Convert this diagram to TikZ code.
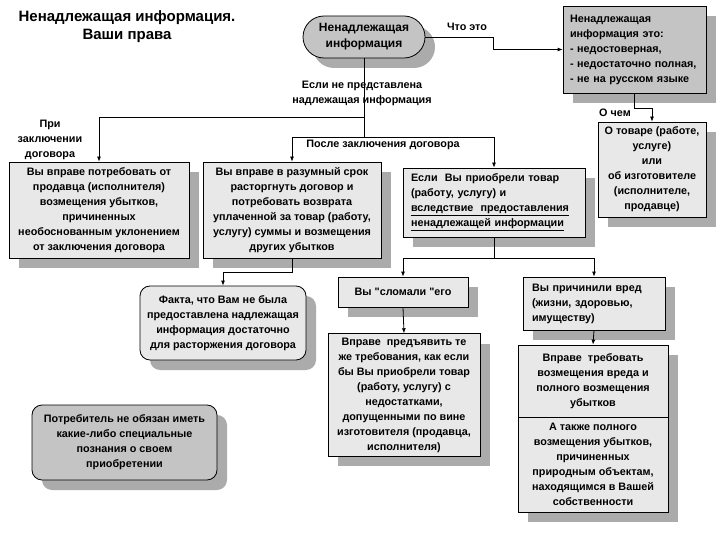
\documentclass[tikz,border=0pt]{standalone}
\usepackage{fontspec}
\setmainfont{Liberation Sans}[Ligatures=TeXOff]
\usetikzlibrary{arrows.meta,shadows}

\definecolor{boxlight}{HTML}{E8E8E8}
\definecolor{boxgray}{HTML}{C4C4C4}
\definecolor{shadowgray}{HTML}{ABABAB}

\begin{document}
\begin{tikzpicture}[x = 1pt, y = -1pt,
  txt/.style = {font = \bfseries\fontsize{10.8}{15}\selectfont},
  panel/.style = {txt, draw, thick, fill = boxlight, align = center, inner sep = 4pt,
    drop shadow = {shadow xshift = 10pt, shadow yshift = -10pt, fill = shadowgray, opacity = 1}},
  darkpanel/.style = {panel, fill = boxgray},
  arr/.style = {-{Latex[length = 5pt, width = 4pt]}}]

\useasboundingbox (0, 0) rectangle (720, 540);

\node[font = \bfseries\fontsize{15}{18}\selectfont, align = center] (title) at (127, 27) {Ненадлежащая информация.\\Ваши права};

\node[darkpanel, font = \bfseries\fontsize{12}{16}\selectfont, minimum width = 122, minimum height = 42, rounded corners = 21] (info) at (364, 37) {Ненадлежащая\\информация};

\node[darkpanel, minimum width = 143, minimum height = 87, text width = 129, align = left] (defbox) at (634.5, 49.5) {Ненадлежащая\\информация это:\\- недостоверная,\\- недостаточно полная,\\- не на русском языке};

\node[panel, minimum width = 108, minimum height = 95] (about) at (652, 169.5) {О товаре (работе,\\услуге)\\или\\об изготовителе\\(исполнителе,\\продавце)};

\node[panel, minimum width = 180, minimum height = 96] (before) at (99, 210) {Вы вправе потребовать от\\продавца (исполнителя)\\возмещения убытков,\\причиненных\\необоснованным уклонением\\от заключения договора};

\node[panel, minimum width = 178, minimum height = 96] (after) at (292, 210) {Вы вправе в разумный срок\\расторгнуть договор и\\потребовать возврата\\уплаченной за товар (работу,\\услугу) суммы и возмещения\\других убытков};

\node[panel, minimum width = 182, minimum height = 69, text width = 166, align = left] (bought) at (494, 202.5) {Если~~Вы приобрели товар\\(работу, услугу) и\\\underline{вследствие~~предоставления}\\\underline{ненадлежащей информации}};

\node[panel, minimum width = 166, minimum height = 74, rounded corners = 10] (fact) at (223, 323) {Факта, что Вам не была\\предоставлена надлежащая\\информация достаточно\\для расторжения договора};

\node[panel, minimum width = 130, minimum height = 30] (broke) at (403, 292) {Вы "сломали "его};

\node[panel, minimum width = 142, minimum height = 53, text width = 124, align = left] (harm) at (594, 303.5) {Вы причинили вред\\(жизни, здоровью,\\имуществу)};

\node[panel, minimum width = 152, minimum height = 120] (claim) at (404, 395) {Вправе~~предъявить те\\же требования, как если\\бы Вы приобрели товар\\(работу, услугу) с\\недостатками,\\допущенными по вине\\изготовителя (продавца,\\исполнителя)};

\node[panel, minimum width = 150, minimum height = 72] (repay) at (593, 381) {Вправе~~требовать\\возмещения вреда и\\полного возмещения\\убытков};

\node[panel, minimum width = 150, minimum height = 95] (nature) at (593, 464.5) {А также полного\\возмещения убытков,\\причиненных\\природным объектам,\\находящимся в Вашей\\собственности};

\node[darkpanel, minimum width = 185, minimum height = 75, rounded corners = 10] (consumer) at (124.5, 442.5) {Потребитель не обязан иметь\\какие-либо специальные\\познания о своем\\приобретении};

% connectors
\draw[thick, arr] (info.east) -- ++(68, 0) |- (defbox.west);

\node[txt] (what) at (467, 27) {Что это};

\draw[thick, arr] (defbox.south) -- ++(0, 15) -| (about.north);

\node[txt] (topic) at (615, 113) {О чем};

\draw[thick, arr] (info.south) -- ++(0, 59) coordinate (split) -| (before.north);

\draw[thick] (split) -- ++(0, 20) coordinate (later);

\draw[thick, arr] (later) -| (after.north);

\draw[thick, arr] (later) -| (bought.north);

\node[txt, align = center] (missing) at (362, 93.5) {Если не представлена\\надлежащая информация};

\node[txt, align = center] (signing) at (50, 140) {При\\заключении\\договора};

\node[txt] (postsign) at (383, 145) {После заключения договора};

\draw[thick, arr] (after.south) -- ++(0, 14) -| (fact.north);

\draw[thick] (bought.south) -- ++(0, 21) coordinate (fork);

\draw[thick, arr] (fork) -| (broke.north);

\draw[thick, arr] (fork) -| (harm.north);

\draw[thick, arr] (broke.south) -- (claim.north);

\draw[thick, arr] (harm.south) -- (repay.north);

\end{tikzpicture}
\end{document}
